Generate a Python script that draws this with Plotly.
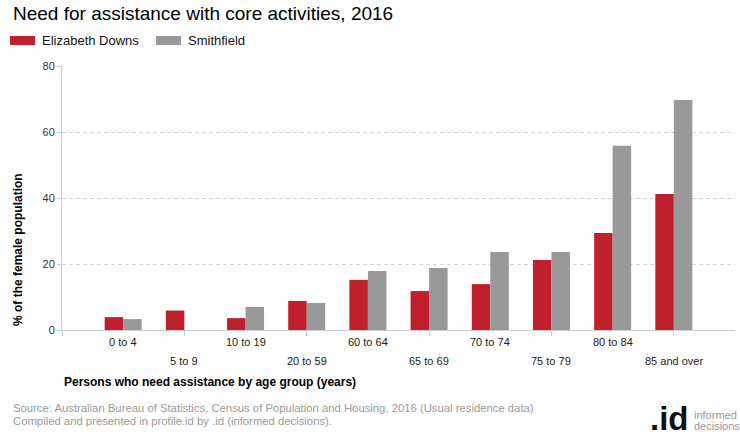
import plotly.graph_objects as go

categories = ["0 to 4", "5 to 9", "10 to 19", "20 to 59", "60 to 64",
              "65 to 69", "70 to 74", "75 to 79", "80 to 84", "85 and over"]
elizabeth_downs = [3.9, 5.9, 3.6, 8.8, 15.2, 11.8, 13.9, 21.2, 29.4, 41.2]
smithfield = [3.3, None, 7.0, 8.2, 17.9, 18.8, 23.6, 23.6, 55.8, 69.7]
y_ticks = [0, 20, 40, 60, 80]

RED = "#C01F2E"
GRAY = "#999999"
FONT = "Liberation Sans, Arial, sans-serif"

W, H = 740, 440
L, R, T, B = 62, 5, 66, 110
PW, PH = W - L - R, H - T - B


def px(x):
    return (x - L) / PW


def py(y):
    return (H - B - y) / PH


idx = list(range(len(categories)))

fig = go.Figure()
fig.add_trace(go.Bar(x=idx, y=elizabeth_downs, name="Elizabeth Downs",
                     marker=dict(color=RED, line=dict(width=0)), showlegend=False))
fig.add_trace(go.Bar(x=idx, y=smithfield, name="Smithfield",
                     marker=dict(color=GRAY, line=dict(width=0)), showlegend=False))

fig.update_layout(
    width=W, height=H,
    margin=dict(l=L, r=R, t=T, b=B),
    paper_bgcolor="white", plot_bgcolor="white",
    barmode="group", bargap=0.395, bargroupgap=0,
    font=dict(family=FONT, color="#333333", size=11),
)

fig.update_xaxes(
    range=[-1, 10], tickvals=idx, showticklabels=False,
    ticks="", showgrid=False, zeroline=False,
    showline=True, linecolor="#cccccc", linewidth=1,
    minor=dict(ticks="outside", tick0=-1, dtick=2, ticklen=5,
               tickcolor="#cccccc", tickwidth=1, showgrid=False),
)
fig.update_yaxes(
    range=[0, 80], tickvals=y_ticks, ticks="outside", ticklen=4,
    tickcolor="#cccccc", showline=True, linecolor="#cccccc", linewidth=1,
    showgrid=True, gridcolor="#d4d4d4", griddash="4px,3px", gridwidth=1,
    zeroline=True, zerolinecolor="#cccccc", zerolinewidth=1,
    tickfont=dict(size=11, color="#333333"),
)

shapes = [
    dict(type="rect", xref="paper", yref="paper",
         x0=px(10), x1=px(35), y0=py(45), y1=py(36),
         fillcolor=RED, line=dict(width=0)),
    dict(type="rect", xref="paper", yref="paper",
         x0=px(156), x1=px(181), y0=py(45), y1=py(36),
         fillcolor=GRAY, line=dict(width=0)),
]

ann = []


def text(x, y, s, size, color="#000000", xanchor="left", yanchor="middle", **kw):
    ann.append(dict(x=px(x), y=py(y), xref="paper", yref="paper", text=s,
                    showarrow=False, xanchor=xanchor, yanchor=yanchor,
                    font=dict(family=FONT, size=size, color=color), **kw))


# category labels, staggered on two rows
for i, c in zip(idx, categories):
    ann.append(dict(x=i, y=py(342 if i % 2 == 0 else 361), xref="x", yref="paper",
                    text=c, showarrow=False, xanchor="center", yanchor="middle",
                    font=dict(family=FONT, size=11, color="#222222")))

text(11, 14, "Need for assistance with core activities, 2016", 19, "#000000")
text(40, 41, "Elizabeth Downs", 13, "#111111")
text(186, 41, "Smithfield", 13, "#111111")
text(62, 382, "<b>Persons who need assistance by age group (years)</b>", 12, "#000000")
ann.append(dict(x=px(18), y=py(250), xref="paper", yref="paper",
                text="<b>% of the female population</b>", textangle=-90,
                showarrow=False, xanchor="center", yanchor="middle",
                font=dict(family=FONT, size=12, color="#000000")))
text(11, 408, "Source: Australian Bureau of Statistics, Census of Population and Housing, 2016 (Usual residence data)", 11.3, "#9a9a9a")
text(11, 421, "Compiled and presented in profile.id by .id (informed decisions).", 11.3, "#9a9a9a")
text(691, 418, "<b>.id</b>", 33, "#111111", xanchor="right")
text(692, 415, "informed", 11, "#999999")
text(692, 426, "decisions", 11, "#999999")

fig.update_layout(shapes=shapes, annotations=ann)
fig.write_html("out.html", config={"displayModeBar": False},
               post_script="document.body.style.margin='0';")
